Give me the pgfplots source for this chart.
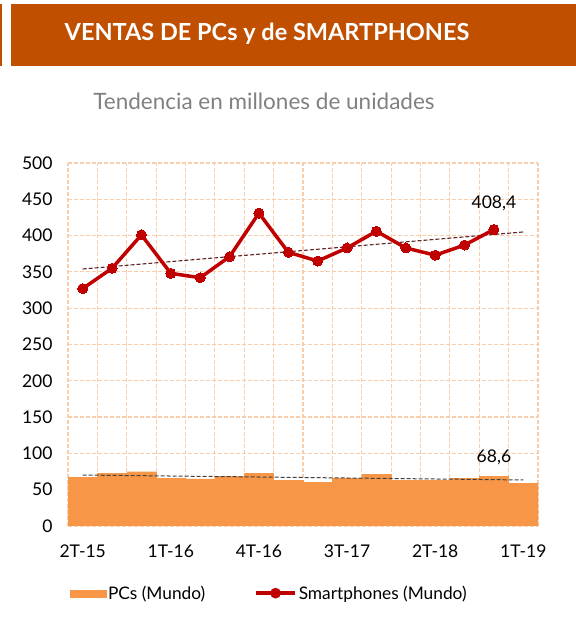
\documentclass[border=0pt]{standalone}
\usepackage{pgfplots}
\pgfplotsset{compat=1.18}
\usepackage{fontspec}
\setmainfont{Lato}
\definecolor{banner}{RGB}{192,79,0}
\definecolor{pcorange}{RGB}{247,150,70}
\definecolor{smred}{RGB}{192,0,0}
\definecolor{gridor}{RGB}{250,205,170}
\definecolor{trendred}{RGB}{99,37,35}
\definecolor{subgray}{RGB}{128,128,128}
\begin{document}
\begin{tikzpicture}
\useasboundingbox (0,0) rectangle (576bp,644bp);
\fill[banner] (11bp,578bp) rectangle (576bp,640bp);
\fill[banner] (0bp,578bp) rectangle (1.5bp,640bp);
\node[text=white, font=\fontsize{23.5bp}{28bp}\selectfont\bfseries] at (267bp,610bp) {VENTAS DE PCs y de SMARTPHONES};
\node[text=subgray, font=\fontsize{22.5bp}{27bp}\selectfont] at (264bp,543bp) {Tendencia en millones de unidades};
\begin{axis}[
  at={(68bp,118bp)}, anchor=south west,
  width=470bp, height=363bp, scale only axis,
  xmin=-0.5, xmax=15.5, ymin=0, ymax=500,
  xtick={0,3,6,9,12,15},
  xticklabels={2T-15,1T-16,4T-16,3T-17,2T-18,1T-19},
  minor xtick={-0.5,0.5,...,15.5},
  ytick={0,50,...,500},
  xmajorgrids=false, xminorgrids=true, ymajorgrids=true,
  grid style={draw=gridor, dash pattern=on 4bp off 2bp, line width=1.2bp},
  minor grid style={draw=gridor, dash pattern=on 4bp off 2bp, line width=1.2bp},
  axis line style={draw=none},
  tick style={draw=none},
  major tick length=0pt, minor tick length=0pt,
  /pgf/number format/assume math mode=true,
  ticklabel style={font=\fontsize{17.5bp}{21bp}\selectfont},
  yticklabel shift=12bp,
  xticklabel shift=15bp,
  legend style={at={(0.428,-0.185)}, anchor=center, draw=none, fill=none,
    legend columns=2, font=\fontsize{17.3bp}{21bp}\selectfont,
    /tikz/every even column/.append style={column sep=47bp},
    inner sep=0pt},
  legend cell align=left,
]
\addplot[ybar, bar width=1, bar shift=0pt, fill=pcorange, draw=pcorange, line width=0.3bp,
  legend image code/.code={\fill[pcorange] (0bp,-3.5bp) rectangle (36bp,3.5bp);}]
coordinates {(0,67) (1,72.5) (2,74.8) (3,65.5) (4,65) (5,68) (6,73) (7,63) (8,60.6) (9,66) (10,71) (11,63) (12,63) (13,66) (14,68.6) (15,58.8)};
\addlegendentry{PCs (Mundo)}
\addplot[forget plot, draw=black!75, line width=1bp, dash pattern=on 4bp off 2bp] coordinates {(0,70.2) (15,63.4)};
\addplot[forget plot, draw=trendred, line width=1.1bp, dash pattern=on 4bp off 2bp] coordinates {(0,354) (15,405)};
\addplot[smred, line width=3.5bp, mark=*, mark size=5bp, mark options={fill=smred, draw=smred, line width=0pt},
  legend image code/.code={\draw[smred, line width=3.5bp] (0bp,0bp) -- (39bp,0bp); \fill[smred] (19.5bp,0bp) circle (3.5bp);}]
coordinates {(0,327) (1,355) (2,401) (3,348) (4,342) (5,371) (6,431) (7,377) (8,365) (9,383) (10,406) (11,383) (12,373) (13,387) (14,408.4)};
\addlegendentry{Smartphones (Mundo)}
\node[font=\fontsize{17.5bp}{21bp}\selectfont] at (axis cs:14,445) {408,4};
\node[font=\fontsize{17.5bp}{21bp}\selectfont] at (axis cs:14,95) {68,6};
\end{axis}
\end{tikzpicture}
\end{document}
